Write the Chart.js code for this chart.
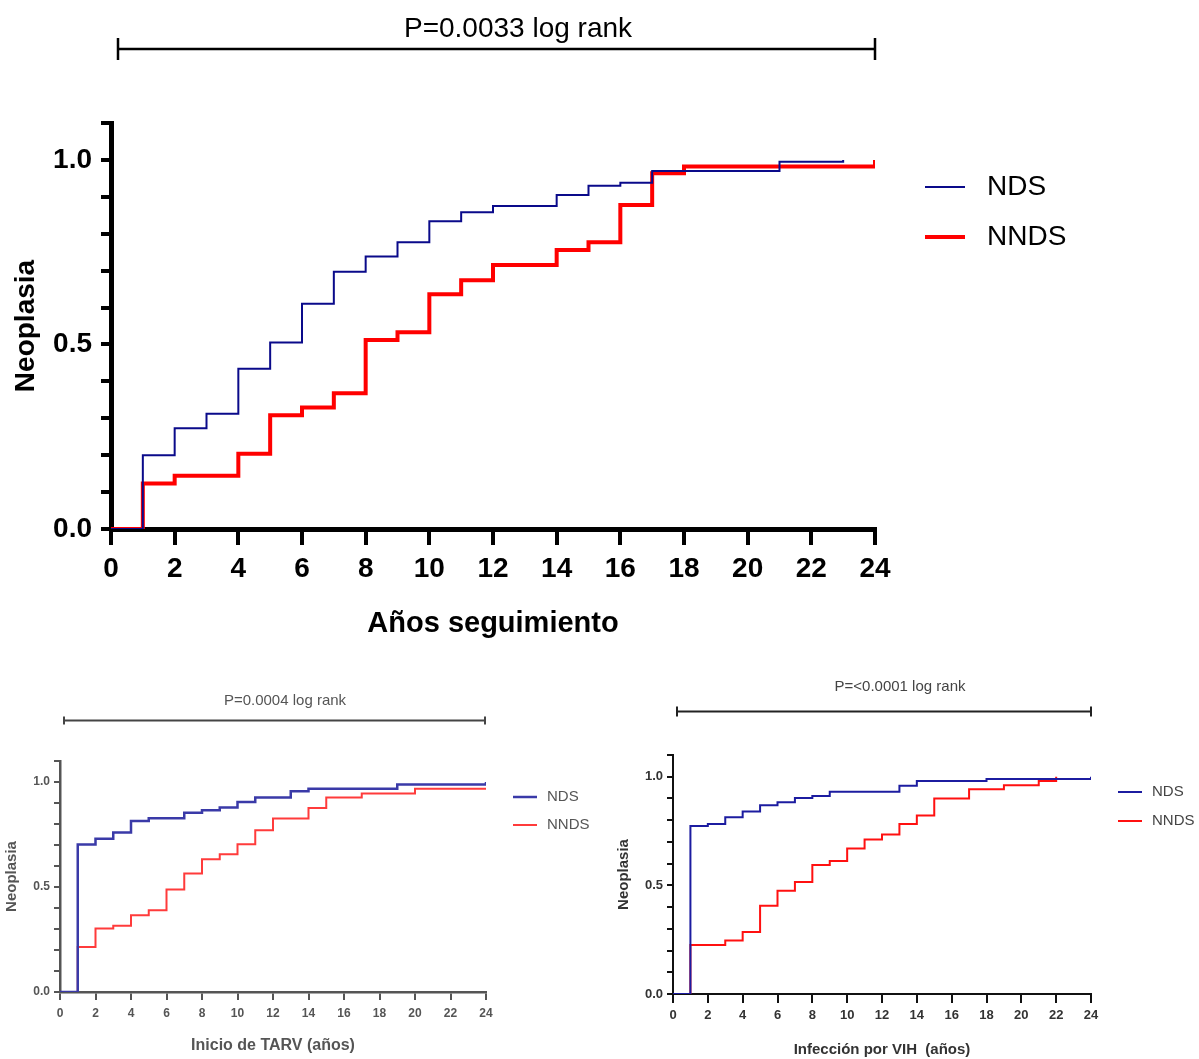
<!DOCTYPE html>
<html>
<head>
<meta charset="utf-8">
<title>Neoplasia</title>
<script src="https://cdn.jsdelivr.net/npm/chart.js@4.4.1/dist/chart.umd.min.js"></script>
<style>
  body { margin: 0; background: #fff; }
  #wrap { position: relative; width: 1199px; height: 1059px; }
  canvas { position: absolute; }
</style>
</head>
<body>
<div id="wrap">
  <canvas id="seguimiento" style="left:0;top:0" width="1199" height="660"></canvas>
  <canvas id="tarv" style="left:0;top:660px" width="600" height="399"></canvas>
  <canvas id="vih" style="left:600px;top:660px" width="599" height="399"></canvas>
</div>
<script>
// Tick labels
const xTickLabels = ["0", "2", "4", "6", "8", "10", "12", "14", "16", "18", "20", "22", "24"];
const yTickLabels = ["0.0", "0.5", "1.0"];
const seriesNames = ["NDS", "NNDS"];

// Años seguimiento (top chart)
const seguimientoNdsTimes = [0, 1, 2, 3, 4, 5, 6, 7, 8, 9, 10, 11, 12, 14, 15, 16, 17, 21, 23];
const seguimientoNdsValues = [0, 0.2, 0.273, 0.312, 0.434, 0.505, 0.61, 0.697, 0.738, 0.777, 0.834, 0.858, 0.875, 0.905, 0.93, 0.938, 0.97, 0.995, 1.0];
const seguimientoNndsTimes = [0, 1, 2, 4, 5, 6, 7, 8, 9, 10, 11, 12, 14, 15, 16, 17, 18, 24];
const seguimientoNndsValues = [0, 0.123, 0.144, 0.204, 0.308, 0.329, 0.368, 0.512, 0.533, 0.636, 0.674, 0.715, 0.756, 0.777, 0.878, 0.964, 0.982, 1.0];

// Inicio de TARV (bottom left)
const tarvNdsTimes = [0, 1, 2, 3, 4, 5, 7, 8, 9, 10, 11, 13, 14, 19, 24];
const tarvNdsValues = [0, 0.702, 0.73, 0.759, 0.814, 0.827, 0.854, 0.865, 0.878, 0.905, 0.926, 0.956, 0.968, 0.988, 1.0];
const tarvNndsTimes = [0, 1, 2, 3, 4, 5, 6, 7, 8, 9, 10, 11, 12, 14, 15, 17, 20, 24];
const tarvNndsValues = [0, 0.214, 0.302, 0.316, 0.365, 0.389, 0.488, 0.564, 0.632, 0.656, 0.703, 0.77, 0.826, 0.876, 0.926, 0.945, 0.968, 0.968];

// Infección por VIH (bottom right)
const vihNdsTimes = [0, 1, 2, 3, 4, 5, 6, 7, 8, 9, 13, 14, 18, 24];
const vihNdsValues = [0, 0.773, 0.782, 0.814, 0.84, 0.869, 0.882, 0.902, 0.911, 0.931, 0.958, 0.98, 0.989, 1.0];
const vihNndsTimes = [0, 1, 3, 4, 5, 6, 7, 8, 9, 10, 11, 12, 13, 14, 15, 17, 19, 21, 22];
const vihNndsValues = [0, 0.226, 0.246, 0.285, 0.406, 0.475, 0.516, 0.594, 0.612, 0.67, 0.711, 0.734, 0.782, 0.822, 0.9, 0.942, 0.961, 0.98, 1.0];

const SANS = "'Liberation Sans', Arial, sans-serif";

function toPoints(times, values) {
  return times.map((t, i) => ({ x: t, y: values[i] }));
}

// Draws the log rank bracket, its text and the legend on the right
const kmDeco = {
  id: "kmDeco",
  afterDraw(chart, args, o) {
    const ctx = chart.ctx;
    ctx.save();
    ctx.strokeStyle = o.color;
    ctx.lineWidth = o.lineWidth;
    ctx.beginPath();
    ctx.moveTo(o.x1, o.y);
    ctx.lineTo(o.x2, o.y);
    ctx.moveTo(o.x1, o.y - o.cap);
    ctx.lineTo(o.x1, o.y + o.cap);
    ctx.moveTo(o.x2, o.y - o.cap);
    ctx.lineTo(o.x2, o.y + o.cap);
    ctx.stroke();

    ctx.fillStyle = o.textColor;
    ctx.font = o.font;
    ctx.textAlign = "center";
    ctx.textBaseline = "middle";
    ctx.fillText(o.text, o.textX, o.textY);

    chart.data.datasets.forEach((ds, i) => {
      const y = o.legendY[i];
      ctx.strokeStyle = ds.borderColor;
      ctx.lineWidth = ds.borderWidth;
      ctx.beginPath();
      ctx.moveTo(o.legendX1, y);
      ctx.lineTo(o.legendX2, y);
      ctx.stroke();
      ctx.fillStyle = o.textColor;
      ctx.font = o.legendFont;
      ctx.textAlign = "left";
      ctx.fillText(ds.label, o.legendTextX, y);
    });
    ctx.restore();
  },
};

function kmChart(id, s) {
  return new Chart(document.getElementById(id), {
    type: "line",
    data: {
      datasets: [
        {
          label: seriesNames[0],
          data: toPoints(s.ndsTimes, s.ndsValues),
          borderColor: s.blue,
          borderWidth: s.blueWidth,
          stepped: true,
          pointRadius: 0,
          fill: false,
          borderCapStyle: "butt",
          borderJoinStyle: "miter",
        },
        {
          label: seriesNames[1],
          data: toPoints(s.nndsTimes, s.nndsValues),
          borderColor: s.red,
          borderWidth: s.redWidth,
          stepped: true,
          pointRadius: 0,
          fill: false,
          borderCapStyle: "butt",
          borderJoinStyle: "miter",
        },
      ],
    },
    options: {
      responsive: false,
      animation: false,
      layout: { padding: s.padding },
      plugins: {
        legend: { display: false },
        tooltip: { enabled: false },
        kmDeco: s.deco,
      },
      scales: {
        x: {
          type: "linear",
          min: 0,
          max: 24,
          border: { color: s.axisColor, width: s.axisWidth },
          grid: { drawOnChartArea: false, tickLength: s.xTick, lineWidth: s.tickWidth, color: s.axisColor },
          ticks: {
            stepSize: 2,
            autoSkip: false,
            maxRotation: 0,
            padding: s.xPad,
            color: s.labelColor,
            font: s.tickFont,
            callback: (v) => xTickLabels[Math.round(v / 2)],
          },
          title: {
            display: true,
            text: s.xTitle,
            color: s.labelColor,
            font: s.xTitleFont,
            padding: { top: 0, bottom: s.xTitlePad },
          },
          afterFit: (scale) => { scale.height = s.xHeight; },
        },
        y: {
          min: 0,
          max: 1.1,
          border: { color: s.axisColor, width: s.axisWidth },
          grid: { drawOnChartArea: false, tickLength: s.yTick, lineWidth: s.tickWidth, color: s.axisColor },
          ticks: {
            stepSize: 0.1,
            autoSkip: false,
            padding: s.yPad,
            color: s.labelColor,
            font: s.tickFont,
            callback: (v) => {
              const k = Math.round(v * 2);
              return Math.abs(v * 2 - k) < 1e-6 ? yTickLabels[k] : "";
            },
          },
          title: {
            display: true,
            text: "Neoplasia",
            color: s.labelColor,
            font: s.yTitleFont,
            padding: { top: s.yTitlePad, bottom: 0 },
          },
          afterFit: (scale) => { scale.width = s.yWidth; },
        },
      },
    },
    plugins: [kmDeco],
  });
}

// Top chart
kmChart("seguimiento", {
  ndsTimes: seguimientoNdsTimes, ndsValues: seguimientoNdsValues,
  nndsTimes: seguimientoNndsTimes, nndsValues: seguimientoNndsValues,
  blue: "#0a0a8a", blueWidth: 2, red: "#ff0000", redWidth: 4,
  padding: { left: 0, right: 324, top: 123, bottom: 0 },
  axisColor: "#000", axisWidth: 5, tickWidth: 4, xTick: 16, yTick: 10,
  xPad: 7, yPad: 9, labelColor: "#000",
  tickFont: { family: SANS, size: 28, weight: "bold" },
  xTitle: "Años seguimiento", xTitleFont: { family: SANS, size: 29, weight: "bold" }, xTitlePad: 19,
  yTitleFont: { family: SANS, size: 28, weight: "bold" }, yTitlePad: 9,
  xHeight: 131, yWidth: 111,
  deco: {
    x1: 118, x2: 875, y: 49, cap: 11, lineWidth: 2.5, color: "#000",
    text: "P=0.0033 log rank", textX: 518, textY: 29, textColor: "#000",
    font: "28px " + SANS,
    legendX1: 925, legendX2: 965, legendTextX: 987, legendY: [187, 237],
    legendFont: "28px " + SANS,
  },
});

// Bottom left chart
kmChart("tarv", {
  ndsTimes: tarvNdsTimes, ndsValues: tarvNdsValues,
  nndsTimes: tarvNndsTimes, nndsValues: tarvNndsValues,
  blue: "#3a3aa8", blueWidth: 2.5, red: "#ff3b3b", redWidth: 2,
  padding: { left: 0, right: 114, top: 101, bottom: 0 },
  axisColor: "#555", axisWidth: 2.5, tickWidth: 2, xTick: 8, yTick: 6,
  xPad: 6, yPad: 4, labelColor: "#555",
  tickFont: { family: SANS, size: 12, weight: "bold" },
  xTitle: "Inicio de TARV (años)", xTitleFont: { family: SANS, size: 16, weight: "bold" }, xTitlePad: 4,
  yTitleFont: { family: SANS, size: 15, weight: "bold" }, yTitlePad: 3,
  xHeight: 67, yWidth: 60,
  deco: {
    x1: 64, x2: 485, y: 60.5, cap: 4, lineWidth: 2, color: "#444",
    text: "P=0.0004 log rank", textX: 285, textY: 40.5, textColor: "#555",
    font: "15px " + SANS,
    legendX1: 513, legendX2: 537, legendTextX: 547, legendY: [137, 165],
    legendFont: "15px " + SANS,
  },
});

// Bottom right chart
kmChart("vih", {
  ndsTimes: vihNdsTimes, ndsValues: vihNdsValues,
  nndsTimes: vihNndsTimes, nndsValues: vihNndsValues,
  blue: "#1c1ca0", blueWidth: 2, red: "#ff1010", redWidth: 2,
  padding: { left: 0, right: 108, top: 95, bottom: 0 },
  axisColor: "#111", axisWidth: 2, tickWidth: 2, xTick: 9, yTick: 6,
  xPad: 5, yPad: 4, labelColor: "#333",
  tickFont: { family: SANS, size: 13, weight: "bold" },
  xTitle: "Infección por VIH  (años)", xTitleFont: { family: SANS, size: 15, weight: "bold" }, xTitlePad: 0,
  yTitleFont: { family: SANS, size: 15, weight: "bold" }, yTitlePad: 15,
  xHeight: 65, yWidth: 73,
  deco: {
    x1: 77, x2: 491, y: 51.5, cap: 5, lineWidth: 2, color: "#222",
    text: "P=<0.0001 log rank", textX: 300, textY: 27, textColor: "#444",
    font: "15px " + SANS,
    legendX1: 518, legendX2: 542, legendTextX: 552, legendY: [132, 161],
    legendFont: "15px " + SANS,
  },
});
</script>
</body>
</html>
